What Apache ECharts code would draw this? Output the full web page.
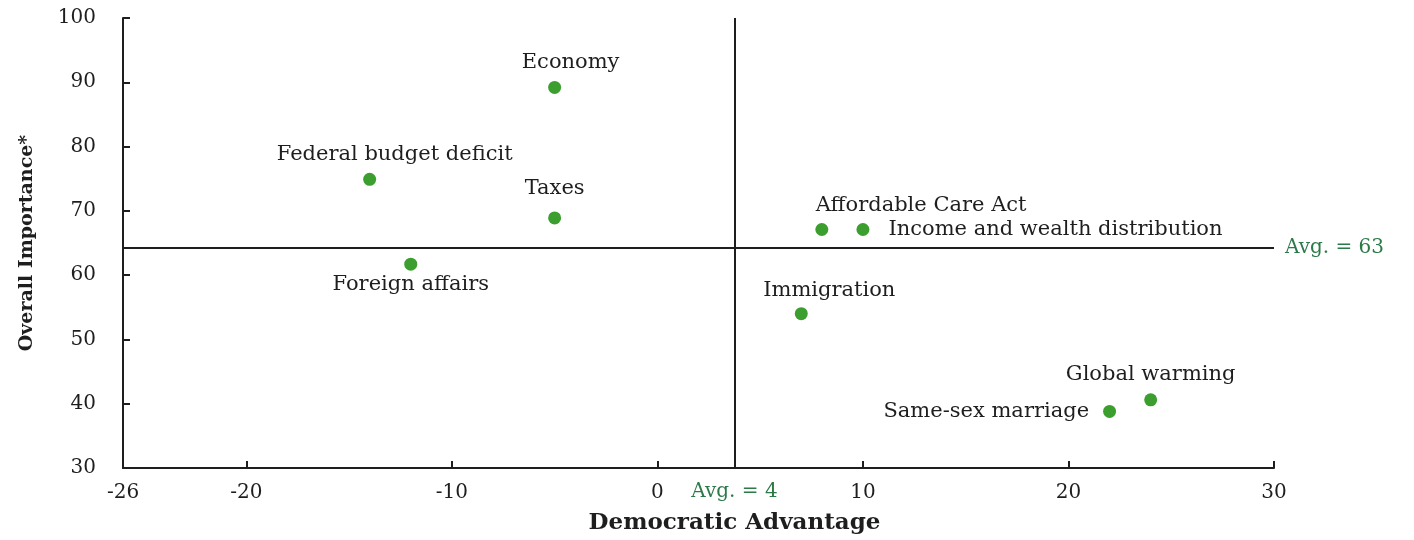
<!DOCTYPE html>
<html>
<head>
<meta charset="utf-8">
<script src="https://cdn.jsdelivr.net/npm/echarts@6/dist/echarts.min.js"></script>
<style>
html,body{margin:0;padding:0;background:#fff;overflow:hidden;}
#c{width:1414px;height:540px;}
</style>
</head>
<body>
<div id="c"></div>
<script>
// ---- data ----
const issues = ["Economy", "Federal budget deficit", "Taxes", "Foreign affairs",
  "Affordable Care Act", "Income and wealth distribution", "Immigration",
  "Same-sex marriage", "Global warming"];
const democraticAdvantage = [-5, -14, -5, -12, 8, 10, 7, 22, 24];
const overallImportance = [89.2, 74.9, 68.9, 61.7, 67.1, 67.1, 54, 38.8, 40.6];
const xTickLabels = [-26, -20, -10, 0, 10, 20, 30];
const xTickMarks = [-20, -10, 0, 10, 20, 30];
const avgDemocraticAdvantage = 3.75;   // drawn position
const avgDemocraticLabel = "Avg. = 4";
const avgImportance = 64.3;            // drawn position
const avgImportanceLabel = "Avg. = 63";

// ---- label placement (style only) ----
const labelPlacement = {
  "Economy": {position: "top", distance: 8, offset: [16, 0]},
  "Federal budget deficit": {position: "top", distance: 8, offset: [25, 0]},
  "Taxes": {position: "top", distance: 12, offset: [0, 0]},
  "Foreign affairs": {position: "bottom", distance: 3, offset: [0, 0]},
  "Affordable Care Act": {position: "top", distance: 7, align: "left", offset: [-6, 0]},
  "Income and wealth distribution": {position: "right", distance: 19, offset: [0, 0]},
  "Immigration": {position: "top", distance: 6, offset: [28, 0]},
  "Same-sex marriage": {position: "left", distance: 14, offset: [0, 0]},
  "Global warming": {position: "top", distance: 8, offset: [0, 0]}
};

const SERIF = '"DejaVu Serif", "Liberation Serif", serif';
const GREEN_PT = '#3b9e2e';
const GREEN_TXT = '#2b7a48';
const INK = '#1e1e1e';

const points = issues.map((n, i) => {
  const p = labelPlacement[n];
  const lab = {show: true, position: p.position, distance: p.distance, offset: p.offset};
  if (p.align) lab.align = p.align;
  return {name: n, value: [democraticAdvantage[i], overallImportance[i]], label: lab};
});

const chart = echarts.init(document.getElementById('c'), null, {renderer: 'canvas', width: 1414, height: 540});
chart.setOption({
  animation: false,
  backgroundColor: '#fff',
  grid: {left: 123, top: 18, width: 1151, height: 455, containLabel: false},
  xAxis: {
    type: 'value', min: -26, max: 30,
    name: 'Democratic Advantage', nameLocation: 'middle', nameGap: 44,
    nameTextStyle: {fontFamily: SERIF, fontWeight: 'bold', fontSize: 23, color: INK, padding: [0, 0, 0, 72]},
    axisLine: {show: true, onZero: false, lineStyle: {color: INK, width: 2}},
    axisTick: {show: true, inside: true, length: 7, customValues: xTickMarks, lineStyle: {color: INK, width: 2}},
    axisLabel: {customValues: xTickLabels, margin: 15, fontFamily: SERIF, fontSize: 20, color: INK},
    splitLine: {show: false}
  },
  yAxis: {
    type: 'value', min: 30, max: 100, interval: 10,
    name: 'Overall Importance*', nameLocation: 'middle', nameGap: 86, nameRotate: 90,
    nameTextStyle: {fontFamily: SERIF, fontWeight: 'bold', fontSize: 19, color: INK},
    axisLine: {show: true, onZero: false, lineStyle: {color: INK, width: 2}},
    axisTick: {show: true, inside: true, length: 7, lineStyle: {color: INK, width: 2}},
    axisLabel: {margin: 27, fontFamily: SERIF, fontSize: 20, color: INK},
    splitLine: {show: false}
  },
  series: [{
    type: 'scatter',
    symbolSize: 13,
    itemStyle: {color: GREEN_PT, opacity: 1},
    label: {formatter: '{b}', fontFamily: SERIF, fontSize: 21, color: INK, opacity: 1},
    emphasis: {disabled: true},
    data: points,
    markLine: {
      silent: true, symbol: 'none',
      lineStyle: {color: INK, width: 2, type: 'solid', opacity: 1},
      data: [
        {xAxis: avgDemocraticAdvantage,
         label: {show: true, position: 'start', formatter: avgDemocraticLabel, distance: 14,
                 fontFamily: SERIF, fontSize: 20, color: GREEN_TXT}},
        {yAxis: avgImportance,
         label: {show: true, position: 'end', formatter: avgImportanceLabel, distance: 11,
                 fontFamily: SERIF, fontSize: 20, color: GREEN_TXT}}
      ]
    }
  }]
});
</script>
</body>
</html>
